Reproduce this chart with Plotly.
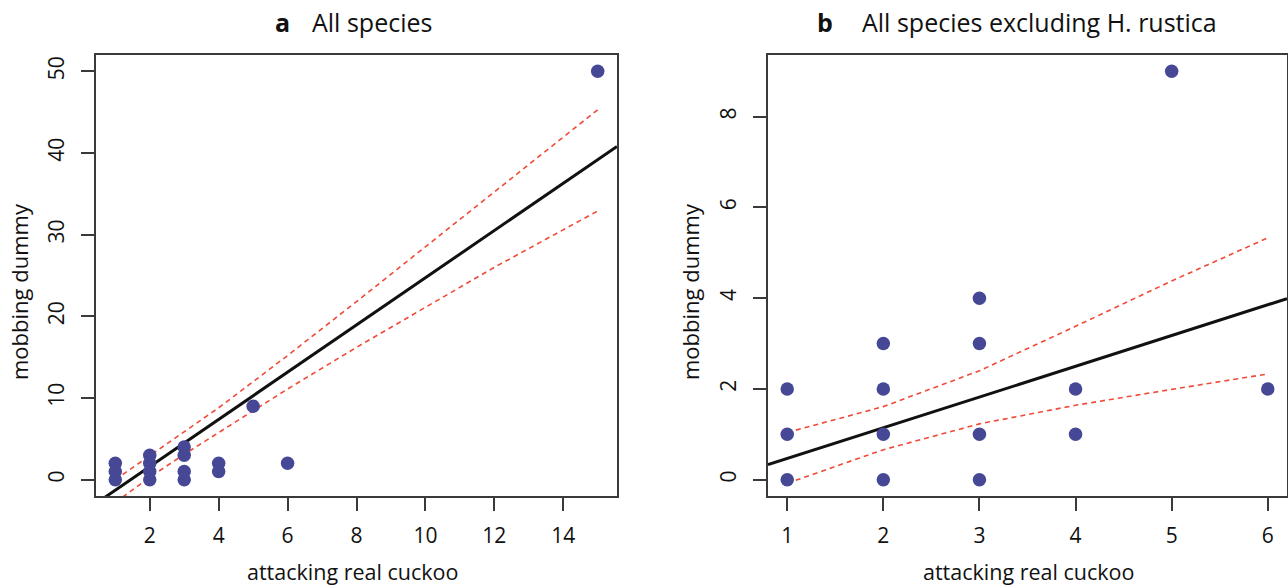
import plotly.graph_objects as go

# ---- data ----
x_a = [1, 1, 1, 2, 2, 2, 2, 3, 3, 3, 3, 4, 4, 5, 6, 15]
y_a = [0, 1, 2, 0, 1, 2, 3, 0, 1, 3, 4, 1, 2, 9, 2, 50]
x_b = [1, 1, 1, 2, 2, 2, 2, 3, 3, 3, 3, 4, 4, 5, 6]
y_b = [0, 1, 2, 0, 1, 2, 3, 0, 1, 3, 4, 1, 2, 9, 2]

fit_a_x = [0.44, 15.56]
fit_a_y = [-2.91, 40.8]
ci_a_x = [1, 2, 3, 4, 5, 6, 8, 10, 12, 15]
ci_a_hi = [0.0, 2.9, 5.8, 8.8, 12.0, 15.2, 21.8, 28.5, 35.2, 45.3]
ci_a_lo = [-2.8, 0.3, 3.1, 5.8, 8.5, 11.1, 16.2, 21.1, 26.0, 32.9]

fit_b_x = [0.8, 6.2]
fit_b_y = [0.33, 3.99]
ci_b_x = [1, 2, 3, 4, 5, 6]
ci_b_hi = [1.04, 1.61, 2.40, 3.38, 4.38, 5.33]
ci_b_lo = [-0.08, 0.66, 1.23, 1.64, 1.99, 2.33]

a_xticks = [2, 4, 6, 8, 10, 12, 14]
a_yticks = [0, 10, 20, 30, 40, 50]
b_xticks = [1, 2, 3, 4, 5, 6]
b_yticks = [0, 2, 4, 6, 8]

# ---- style ----
W, H = 1288, 587
FONT = "Open Sans"
PT = "#464896"
RED = "#f04a38"
AX = "#3a3a3a"

fig = go.Figure()

def panel(xs, ys, fx, fy, cx, chi, clo, xa, ya):
    fig.add_trace(go.Scatter(x=cx, y=chi, mode="lines", xaxis=xa, yaxis=ya,
                             line=dict(color=RED, width=1.6, dash="5px,4px"), showlegend=False))
    fig.add_trace(go.Scatter(x=cx, y=clo, mode="lines", xaxis=xa, yaxis=ya,
                             line=dict(color=RED, width=1.6, dash="5px,4px"), showlegend=False))
    fig.add_trace(go.Scatter(x=fx, y=fy, mode="lines", xaxis=xa, yaxis=ya,
                             line=dict(color="#111111", width=3), showlegend=False))
    fig.add_trace(go.Scatter(x=xs, y=ys, mode="markers", xaxis=xa, yaxis=ya,
                             marker=dict(color=PT, size=13.5, line=dict(width=0)),
                             showlegend=False))

panel(x_a, y_a, fit_a_x, fit_a_y, ci_a_x, ci_a_hi, ci_a_lo, "x", "y")
panel(x_b, y_b, fit_b_x, fit_b_y, ci_b_x, ci_b_hi, ci_b_lo, "x2", "y2")

def px(v):
    return v / W

def py(v):
    return 1 - v / H

ydom = [py(496), py(55)]
common = dict(showline=True, mirror=True, linecolor=AX, linewidth=1.5,
              ticks="outside", ticklen=13, tickwidth=1.5, tickcolor=AX,
              showgrid=False, zeroline=False,
              tickfont=dict(family=FONT, size=21, color="#111"))

fig.update_layout(
    width=W, height=H,
    margin=dict(l=0, r=0, t=0, b=0),
    paper_bgcolor="white", plot_bgcolor="white",
    xaxis=dict(domain=[px(96), px(617)], range=[0.44, 15.56], tickvals=a_xticks,
               anchor="y", ticklabelstandoff=7, **common),
    yaxis=dict(domain=ydom, range=[-2, 52], tickvals=a_yticks, anchor="x",
               tickangle=-90, ticklabelstandoff=9, **common),
    xaxis2=dict(domain=[px(768), px(1287)], range=[0.8, 6.2], tickvals=b_xticks,
                anchor="y2", ticklabelstandoff=7, **common),
    yaxis2=dict(domain=ydom, range=[-0.36, 9.36], tickvals=b_yticks, anchor="x2",
                tickangle=-90, ticklabelstandoff=9, **common),
)

ann = []
def text(t, x, y, size, xanchor="center", angle=0, bold=False):
    ann.append(dict(text=(f"<b>{t}</b>" if bold else t), x=px(x), y=py(y),
                    xref="paper", yref="paper", xanchor=xanchor, yanchor="middle",
                    showarrow=False, textangle=angle,
                    font=dict(family=FONT, size=size, color="#111")))

text("a", 282, 22, 25, bold=True)
text("All species", 310, 22, 25, xanchor="left")
text("b", 825, 22, 25, bold=True)
text("All species excluding H. rustica", 860, 22, 25, xanchor="left")
text("attacking real cuckoo", 352, 571, 21.5)
text("attacking real cuckoo", 1028, 571, 21.5)
text("mobbing dummy", 19, 292, 22, angle=-90)
text("mobbing dummy", 690, 292, 22, angle=-90)
fig.update_layout(annotations=ann)

fig.write_html("out.html", config={"displayModeBar": False},
               post_script="document.body.style.margin='0';document.body.style.padding='0';document.body.style.overflow='hidden';")
